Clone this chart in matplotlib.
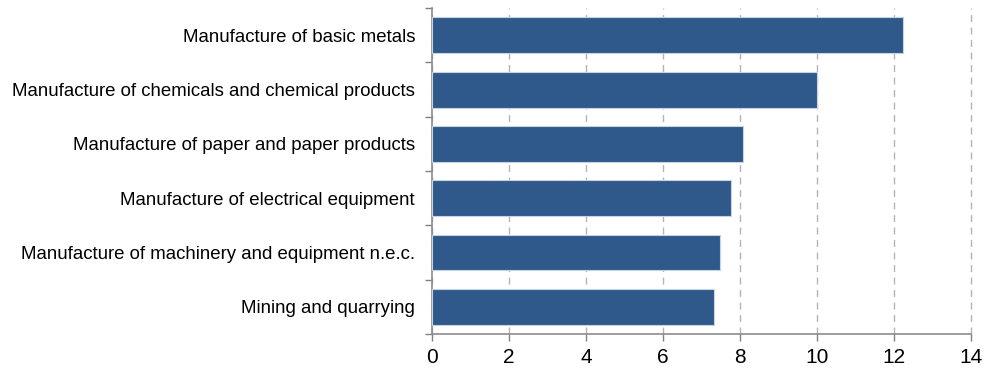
import matplotlib
matplotlib.use("Agg")
import matplotlib.pyplot as plt
import numpy as np

categories = [
    "Manufacture of basic metals",
    "Manufacture of chemicals and chemical products",
    "Manufacture of paper and paper products",
    "Manufacture of electrical equipment",
    "Manufacture of machinery and equipment n.e.c.",
    "Mining and quarrying",
]
values = [12.22, 10.0, 8.07, 7.76, 7.48, 7.33]
x_ticks = [0, 2, 4, 6, 8, 10, 12, 14]

plt.rcParams['font.family'] = ['Liberation Sans', 'DejaVu Sans']

fig = plt.figure(figsize=(9.88, 3.71), dpi=100)
ax = fig.add_axes([0.437, 0.100, 0.546, 0.878])

n = len(categories)
ypos = np.arange(n)
ax.barh(ypos, values, height=0.66, color='#30598B', edgecolor='#C9D3E0', linewidth=0.8, zorder=3)

ax.set_xlim(0, 14)
ax.set_ylim(n - 0.5, -0.5)
ax.set_xticks(x_ticks)
ax.set_xticklabels([str(t) for t in x_ticks], fontsize=15)
ax.xaxis.grid(True, linestyle=(0, (5, 4)), color='#AEB4BA', linewidth=1.0, zorder=0)
for gl in ax.get_xgridlines():
    gl.set_clip_on(False)

ax.set_yticks(np.arange(n + 1) - 0.5)
ax.set_yticklabels([])
ax.set_yticks(ypos, minor=True)
ax.set_yticklabels(categories, minor=True, fontsize=13.4)
ax.tick_params(axis='y', which='minor', length=0, pad=12)
ax.tick_params(axis='y', which='major', length=5, color='#808080', width=1)
ax.tick_params(axis='x', length=5, color='#808080', width=1, pad=5)

for s in ['top', 'right']:
    ax.spines[s].set_visible(False)
for s in ['left', 'bottom']:
    ax.spines[s].set_color('#8C8C8C')
    ax.spines[s].set_linewidth(1.2)

fig.savefig("out.png", dpi=100)
